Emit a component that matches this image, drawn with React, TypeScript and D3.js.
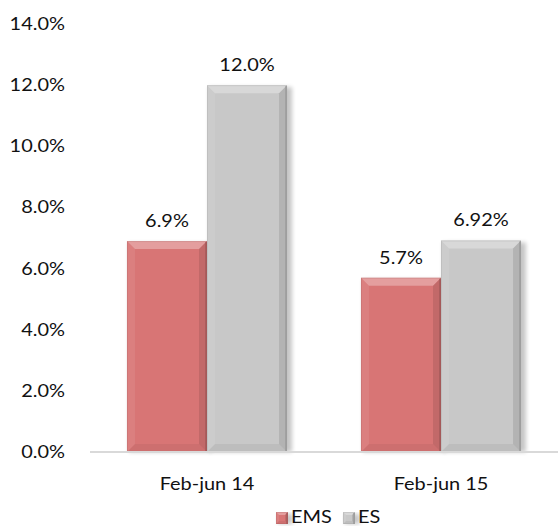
import React from 'react';
import * as d3 from 'd3';

const categories = ['Feb-jun 14', 'Feb-jun 15'];
const seriesNames = ['EMS', 'ES'];
const emsValues = [6.9, 5.7];
const esValues = [12.0, 6.92];
const valueLabels = [['6.9%', '5.7%'], ['12.0%', '6.92%']];
const yTicks = [0, 2, 4, 6, 8, 10, 12, 14];

const W = 558;
const H = 527;
const FONT = "Lato, 'Open Sans', sans-serif";
const SX = 1.16; // horizontal stretch of the reference text

const colors = ['#d87575', '#c8c8c8'];

const Bevel: React.FC<{ x: number; y: number; w: number; h: number; fill: string; b?: number }> = ({ x, y, w, h, fill, b = 8 }) => {
  const bb = Math.min(b, h / 2, w / 2);
  const dark = d3.color(fill)!.darker(0.9).formatHex();
  return (
    <g>
      {/* soft shadow to the right */}
      <rect x={x + 2} y={y + 2} width={w + 3} height={h - 2} fill="#000" opacity={0.22} filter="url(#blur)" />
      <rect x={x} y={y} width={w} height={h} fill={fill} />
      <polygon points={`${x},${y} ${x + w},${y} ${x + w - bb},${y + bb} ${x + bb},${y + bb}`} fill="#fff" opacity={0.3} />
      <polygon points={`${x},${y} ${x + bb},${y + bb} ${x + bb},${y + h - bb} ${x},${y + h}`} fill="#fff" opacity={0.08} />
      <polygon points={`${x + w},${y} ${x + w},${y + h} ${x + w - bb},${y + h - bb} ${x + w - bb},${y + bb}`} fill="#000" opacity={0.1} />
      <polygon points={`${x},${y + h} ${x + w},${y + h} ${x + w - bb},${y + h - bb} ${x + bb},${y + h - bb}`} fill="#000" opacity={0.05} />
      <rect x={x + w - 2} y={y + 1} width={2} height={h - 1} fill={dark} opacity={0.55} />
      <rect x={x + 0.5} y={y + 0.5} width={w - 1} height={h - 1} fill="none" stroke={dark} strokeOpacity={0.22} />
    </g>
  );
};

const Label: React.FC<{ x: number; y: number; anchor?: string; children: React.ReactNode }> = ({ x, y, anchor = 'middle', children }) => (
  <text
    transform={`translate(${x},${y}) scale(${SX},1)`}
    textAnchor={anchor as any}
    dy="0.35em"
    fontFamily={FONT}
    fontSize={17.2}
    fill="#111"
  >
    {children}
  </text>
);

export default function App() {
  const x0 = d3.scaleBand<string>().domain(categories).range([90, 558]).paddingInner(0.316).paddingOuter(0.158);
  const x1 = d3.scaleBand<string>().domain(seriesNames).range([0, x0.bandwidth()]);
  const y = d3.scaleLinear().domain([0, 14]).range([452, 24]);
  const series = [emsValues, esValues];

  return (
    <svg width={W} height={H} style={{ position: 'absolute', left: 0, top: 0, background: '#fff' }}>
      <defs>
        <filter id="blur" x="-20%" y="-20%" width="140%" height="140%">
          <feGaussianBlur stdDeviation={2} />
        </filter>
      </defs>

      {yTicks.map((t) => (
        <Label key={t} x={65} y={y(t)} anchor="end">{`${t.toFixed(1)}%`}</Label>
      ))}

      {categories.map((c, ci) =>
        seriesNames.map((s, si) => {
          const v = series[si][ci];
          const bx = x0(c)! + x1(s)!;
          const by = y(v);
          return <Bevel key={c + s} x={bx} y={by} w={x1.bandwidth()} h={y(0) - by} fill={colors[si]} />;
        })
      )}

      <line x1={90} x2={558} y1={452} y2={452} stroke="#d9d9d9" strokeWidth={2} />

      {categories.map((c, ci) =>
        seriesNames.map((s, si) => {
          const v = series[si][ci];
          const bx = x0(c)! + x1(s)! + x1.bandwidth() / 2;
          return (
            <Label key={'l' + c + s} x={bx} y={y(v) - 20}>{valueLabels[si][ci]}</Label>
          );
        })
      )}

      {categories.map((c) => (
        <Label key={'c' + c} x={x0(c)! + x0.bandwidth() / 2} y={484}>{c}</Label>
      ))}

      {seriesNames.map((s, si) => {
        const lx = si === 0 ? 276 : 343;
        return (
          <g key={'lg' + s}>
            <Bevel x={lx} y={512} w={12} h={12} fill={colors[si]} b={3} />
            <Label x={lx + 15} y={517} anchor="start">{s}</Label>
          </g>
        );
      })}
    </svg>
  );
}
